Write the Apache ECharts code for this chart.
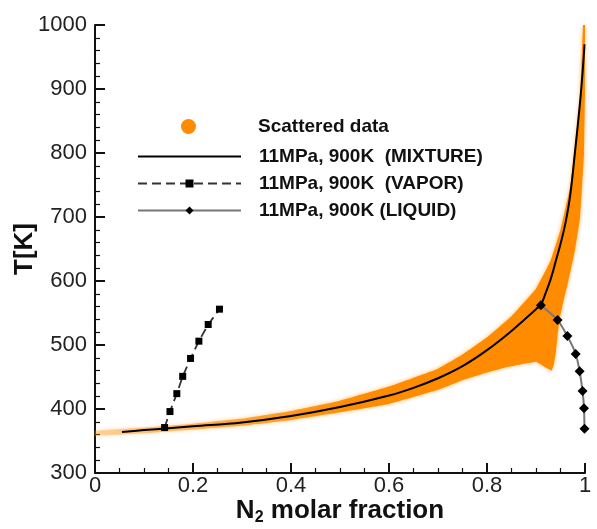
<!DOCTYPE html>
<html>
<head>
<meta charset="utf-8">
<script src="https://cdn.jsdelivr.net/npm/echarts@6/dist/echarts.min.js"></script>
<style>
html,body{margin:0;padding:0;background:#fff;}
#chart{width:597px;height:529px;}
</style>
</head>
<body>
<div id="chart"></div>
<script>
// ---- Data ----
const mixtureX = [0.055, 0.1, 0.15, 0.2, 0.3, 0.4, 0.5, 0.6, 0.65, 0.7, 0.75, 0.8, 0.85, 0.9, 0.91, 0.92, 0.93, 0.94, 0.95, 0.96, 0.97, 0.98, 0.99, 0.995, 0.999];
const mixtureT = [364, 367, 370, 373, 379, 389, 403, 421, 433, 448, 467, 492, 522, 556, 563, 582, 603, 630, 658, 690, 735, 805, 880, 925, 970];

const vaporX = [0.142, 0.153, 0.167, 0.179, 0.195, 0.212, 0.231, 0.254];
const vaporT = [371, 396, 424, 451, 479, 506, 532, 556];

const liquidX = [0.910, 0.944, 0.964, 0.981, 0.989, 0.995, 0.998, 0.999];
const liquidT = [562, 539, 514, 486, 459, 428, 401, 369];

// outline of the scattered-data cloud (upper/left edge, then lower/right edge back)
const cloudUpperX = [0, 0.1, 0.2, 0.3, 0.4, 0.5, 0.6, 0.7, 0.75, 0.8, 0.85, 0.9, 0.93, 0.95, 0.97, 0.98, 0.99, 0.996];
const cloudUpperT = [366, 371, 377, 385, 397, 413, 435, 463, 485, 512, 545, 588, 632, 680, 748, 813, 888, 1000];
const cloudLowerX = [1.0, 1.0, 0.998, 0.99, 0.98, 0.966, 0.955, 0.948, 0.944, 0.941, 0.937, 0.932, 0.922, 0.9, 0.85, 0.8, 0.75, 0.7, 0.6, 0.5, 0.4, 0.3, 0.2, 0.1, 0];
const cloudLowerT = [1000, 900, 800, 700, 650, 600, 565, 540, 515, 492, 472, 460, 464, 474, 467, 457, 445, 430, 408, 395, 383, 374, 368, 362, 358];

const seriesNames = ['Scattered data', '11MPa, 900K  (MIXTURE)', '11MPa, 900K  (VAPOR)', '11MPa, 900K (LIQUID)'];
const xTicks = {min: 0, max: 1, interval: 0.2};
const yTicks = {min: 300, max: 1000, interval: 100};

// ---- Build ----
const pair = (xs, ys) => xs.map((x, i) => [x, ys[i]]);
const cloudX = cloudUpperX.concat(cloudLowerX);
const cloudT = cloudUpperT.concat(cloudLowerT);
const FONT = "'Liberation Sans', Arial, sans-serif";
const ORANGE = '#ff8c00';

const chart = echarts.init(document.getElementById('chart'), null, {renderer: 'canvas'});
const option = {
  backgroundColor: '#fff',
  animation: false,
  grid: {left: 95, right: 12, top: 25, bottom: 56, containLabel: false, outerBoundsMode: 'none'},
  legend: [
    {
      data: [{name: seriesNames[0], icon: 'circle', itemStyle: {color: ORANGE}}],
      orient: 'vertical', left: 181, top: 117, padding: 0,
      itemWidth: 15, itemHeight: 15, selectedMode: false,
      textStyle: {fontFamily: FONT, fontWeight: 'bold', fontSize: 19, color: '#111', padding: [0, 0, 0, 57]}
    },
    {
      data: [
        {name: seriesNames[1], itemStyle: {color: 'rgba(0,0,0,0)', borderWidth: 0}},
        {name: seriesNames[2]},
        {name: seriesNames[3]}
      ],
      orient: 'vertical', left: 137, top: 147, itemGap: 8, padding: 0,
      itemWidth: 103, itemHeight: 10, selectedMode: false,
      textStyle: {fontFamily: FONT, fontWeight: 'bold', fontSize: 19, color: '#111', padding: [0, 0, 0, 13]}
    }
  ],
  xAxis: {
    type: 'value', min: xTicks.min, max: xTicks.max, interval: xTicks.interval,
    name: '{a|N}{s|2}{a| molar fraction}', nameLocation: 'middle', nameGap: 23,
    nameMoveOverlap: false,
    nameTextStyle: {
      rich: {
        a: {fontFamily: FONT, fontWeight: 'bold', fontSize: 26, color: '#111'},
        s: {fontFamily: FONT, fontWeight: 'bold', fontSize: 16, color: '#111', padding: [14, 0, 0, 0]}
      }
    },
    axisLine: {show: true, onZero: false, lineStyle: {color: '#111', width: 2}},
    axisTick: {show: true, inside: true, length: 10, lineStyle: {color: '#111', width: 2}},
    minorTick: {show: true, splitNumber: 4, length: 5, lineStyle: {color: '#111', width: 1.2}},
    axisLabel: {fontFamily: FONT, fontSize: 22, color: '#222', margin: 2, formatter: v => String(v)},
    splitLine: {show: false}
  },
  yAxis: {
    type: 'value', min: yTicks.min, max: yTicks.max, interval: yTicks.interval,
    name: 'T[K]', nameLocation: 'middle', nameGap: 57, nameRotate: 90,
    nameMoveOverlap: false,
    nameTextStyle: {fontFamily: FONT, fontWeight: 'bold', fontSize: 26, color: '#111'},
    axisLine: {show: true, onZero: false, lineStyle: {color: '#111', width: 2}},
    axisTick: {show: true, inside: true, length: 10, lineStyle: {color: '#111', width: 2}},
    minorTick: {show: true, splitNumber: 5, length: 5, lineStyle: {color: '#111', width: 1.2}},
    axisLabel: {fontFamily: FONT, fontSize: 22, color: '#222', margin: 8, formatter: v => String(v)},
    splitLine: {show: false}
  },
  series: [
    {
      name: seriesNames[0], type: 'custom', z: 1,
      itemStyle: {color: ORANGE},
      data: pair(cloudX, cloudT),
      renderItem: function (params, api) {
        if (params.dataIndex !== 0) return null;
        const pts = cloudX.map((x, i) => api.coord([x, cloudT[i]]));
        return {
          type: 'polygon',
          shape: {points: pts, smooth: 0.08},
          style: {
            fill: new echarts.graphic.LinearGradient(0, 0, 1, 0, [
              {offset: 0, color: 'rgba(255,140,0,0.3)'},
              {offset: 0.3, color: 'rgba(255,140,0,0.7)'},
              {offset: 0.55, color: 'rgba(255,140,0,1)'},
              {offset: 1, color: 'rgba(255,140,0,1)'}
            ]),
            shadowBlur: 4, shadowColor: 'rgba(255,140,0,0.6)'
          }
        };
      }
    },
    {
      name: seriesNames[1], type: 'line', z: 3, data: pair(mixtureX, mixtureT),
      symbol: 'none', smooth: 0.4,
      itemStyle: {color: '#000'},
      lineStyle: {color: '#000', width: 2}
    },
    {
      name: seriesNames[2], type: 'line', z: 4, data: pair(vaporX, vaporT),
      symbol: 'rect', symbolSize: 7, showSymbol: true,
      itemStyle: {color: '#000'},
      lineStyle: {color: '#333', width: 1.8, type: [9, 5]}
    },
    {
      name: seriesNames[3], type: 'line', z: 4, data: pair(liquidX, liquidT),
      symbol: 'diamond', symbolSize: 10, showSymbol: true, smooth: 0.2,
      itemStyle: {color: '#000'},
      lineStyle: {color: '#777', width: 2}
    }
  ]
};
chart.setOption(option);
</script>
</body>
</html>
